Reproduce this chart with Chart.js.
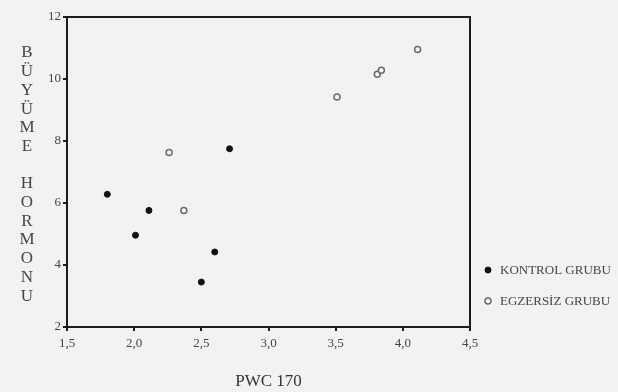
<!DOCTYPE html>
<html>
<head>
<meta charset="utf-8">
<script src="https://cdn.jsdelivr.net/npm/chart.js@4/dist/chart.umd.min.js"></script>
<style>
  html, body { margin: 0; padding: 0; background: #f2f2f2; }
  #wrap { width: 618px; height: 392px; }
</style>
</head>
<body>
<div id="wrap"><canvas id="chart" width="618" height="392"></canvas></div>
<script>
// --- data ---
const kontrolX = [1.80, 2.71, 2.11, 2.01, 2.60, 2.50];
const kontrolY = [6.28, 7.75, 5.76, 4.96, 4.42, 3.45];
const egzersizX = [2.26, 2.37, 3.51, 3.81, 3.84, 4.11];
const egzersizY = [7.63, 5.76, 9.42, 10.15, 10.28, 10.95];
const xTicks = [1.5, 2.0, 2.5, 3.0, 3.5, 4.0, 4.5];
const yTicks = [2, 4, 6, 8, 10, 12];
const seriesNames = ['KONTROL GRUBU', 'EGZERSİZ GRUBU'];
const yTitle = 'BÜYÜME HORMONU';
const xTitle = 'PWC 170';

const serif = "'Liberation Serif', 'DejaVu Serif', serif";
const toPoints = (xs, ys) => xs.map((x, i) => ({ x: x, y: ys[i] }));

// frame, stacked y title, legend
const decor = {
    id: 'decor',
    afterDraw(chart) {
        const ctx = chart.ctx;
        const a = chart.chartArea;
        ctx.save();
        ctx.strokeStyle = '#1c1c1c';
        ctx.lineWidth = 2;
        ctx.strokeRect(a.left, a.top, a.right - a.left, a.bottom - a.top);

        // vertical letters
        ctx.fillStyle = '#444444';
        ctx.font = '17px ' + serif;
        ctx.textAlign = 'center';
        ctx.textBaseline = 'middle';
        [...yTitle].forEach((ch, i) => {
            if (ch !== ' ') ctx.fillText(ch, 27, 53 + i * 18.7);
        });

        // legend
        ctx.textAlign = 'left';
        ctx.font = '13px ' + serif;
        chart.data.datasets.forEach((ds, i) => {
            const y = 271 + i * 31;
            ctx.beginPath();
            ctx.arc(488, y - 1, ds.pointRadius, 0, Math.PI * 2);
            ctx.fillStyle = ds.backgroundColor;
            ctx.fill();
            ctx.lineWidth = ds.borderWidth;
            ctx.strokeStyle = ds.borderColor;
            ctx.stroke();
            ctx.fillStyle = '#444444';
            ctx.fillText(ds.label, 500, y);
        });
        ctx.restore();
    }
};

new Chart(document.getElementById('chart'), {
    type: 'scatter',
    data: {
        datasets: [
            {
                label: seriesNames[0],
                data: toPoints(kontrolX, kontrolY),
                backgroundColor: '#111111',
                borderColor: '#111111',
                borderWidth: 1,
                pointRadius: 3
            },
            {
                label: seriesNames[1],
                data: toPoints(egzersizX, egzersizY),
                backgroundColor: '#f4f4f4',
                borderColor: '#6a6a6a',
                borderWidth: 1.5,
                pointRadius: 3
            }
        ]
    },
    options: {
        responsive: false,
        animation: false,
        layout: { padding: { left: 0, top: 17, right: 148, bottom: 0 } },
        plugins: { legend: { display: false }, tooltip: { enabled: false } },
        scales: {
            x: {
                type: 'linear',
                min: xTicks[0],
                max: xTicks[xTicks.length - 1],
                afterBuildTicks: s => { s.ticks = xTicks.map(v => ({ value: v })); },
                afterFit: s => { s.height = 65; },
                border: { display: true, color: '#1c1c1c', width: 2 },
                grid: { display: true, drawOnChartArea: false, drawTicks: true, tickLength: 4, color: '#1c1c1c', lineWidth: 2 },
                ticks: {
                    padding: 5,
                    color: '#444444',
                    font: { family: serif, size: 13 },
                    callback: v => v.toFixed(1).replace('.', ',')
                },
                title: {
                    display: true,
                    text: xTitle,
                    color: '#333333',
                    font: { family: serif, size: 17 },
                    padding: { top: 0, bottom: 0 }
                }
            },
            y: {
                type: 'linear',
                min: yTicks[0],
                max: yTicks[yTicks.length - 1],
                afterBuildTicks: s => { s.ticks = yTicks.map(v => ({ value: v })); },
                afterFit: s => { s.width = 67; },
                border: { display: true, color: '#1c1c1c', width: 2 },
                grid: { display: true, drawOnChartArea: false, drawTicks: true, tickLength: 4, color: '#1c1c1c', lineWidth: 2 },
                ticks: {
                    padding: 2,
                    color: '#444444',
                    font: { family: serif, size: 13 },
                    callback: v => String(v)
                }
            }
        }
    },
    plugins: [decor]
});
</script>
</body>
</html>
